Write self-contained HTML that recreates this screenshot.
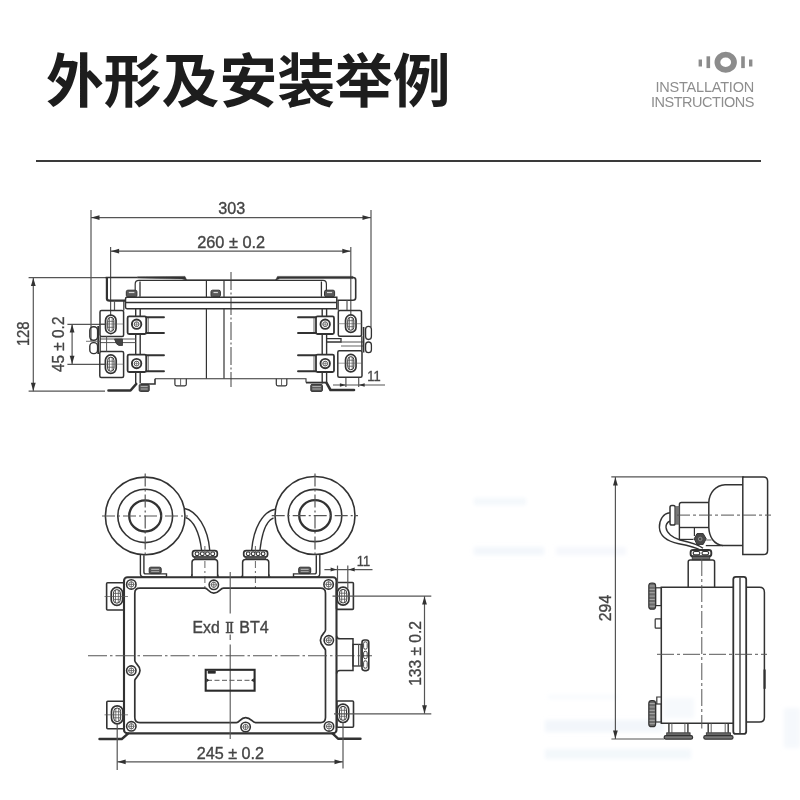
<!DOCTYPE html>
<html lang="zh">
<head>
<meta charset="utf-8">
<title>外形及安装举例</title>
<style>
html,body{margin:0;padding:0;background:#fff;}
body{width:800px;height:800px;position:relative;overflow:hidden;font-family:"Liberation Sans","Noto Sans CJK SC",sans-serif;}
h1{position:absolute;left:46px;top:40px;margin:0;font-size:57.8px;line-height:84px;font-weight:700;color:#1d1d1d;letter-spacing:0;white-space:nowrap;font-family:"Liberation Sans","Noto Sans CJK SC",sans-serif;}
.sub{position:absolute;right:46px;top:79.5px;text-align:right;font-size:14.5px;line-height:15.5px;color:#8e8e8e;white-space:nowrap;filter:blur(0.3px);}
.sub span{display:block;}
.sub .a{letter-spacing:-0.2px;}
.sub .b{letter-spacing:-0.48px;}
.rule{position:absolute;left:36px;top:160px;width:724.5px;height:2px;background:#3a3a3a;}
svg{position:absolute;left:0;top:0;}
svg text{font-family:"Liberation Sans",sans-serif;}
</style>
</head>
<body>
<h1>外形及安装举例</h1>
<div class="sub"><span class="a">INSTALLATION</span><span class="b">INSTRUCTIONS</span></div>
<div class="rule"></div>
<svg width="800" height="800" viewBox="0 0 800 800">
<defs><filter id="soft" x="-2%" y="-2%" width="104%" height="104%"><feGaussianBlur stdDeviation="0.5"/></filter><filter id="smudge" x="-10%" y="-50%" width="120%" height="200%"><feGaussianBlur stdDeviation="2.2"/></filter></defs>
<g fill="#8c8c8c">
<rect x="698.6" y="59.5" width="3.4" height="7"/>
<rect x="706.5" y="56.3" width="3.6" height="11.8"/>
<rect x="741.2" y="56.3" width="3.6" height="11.8"/>
<rect x="749" y="59.5" width="3.4" height="7"/>
<ellipse cx="725.7" cy="62.3" rx="8.3" ry="7.6" fill="none" stroke="#8c8c8c" stroke-width="5.8"/>
</g>
<g filter="url(#smudge)" fill="#e6edf7">
<rect x="474" y="498" width="52" height="7" opacity="0.47"/>
<rect x="474" y="547" width="70" height="8" opacity="0.51"/>
<rect x="556" y="547" width="70" height="8" opacity="0.42"/>
<rect x="548" y="695" width="70" height="4" opacity="0.30"/>
<rect x="545" y="720" width="118" height="12" opacity="0.51"/>
<rect x="545" y="749" width="146" height="10" opacity="0.47"/>
<rect x="784" y="708" width="16" height="40" opacity="0.38"/>
<rect x="664" y="698" width="30" height="20" opacity="0.34"/>
</g>
<g filter="url(#soft)">
<g id="top-view">
<line x1="91" y1="210" x2="91" y2="341" stroke="#555" stroke-width="1.2"/>
<line x1="371" y1="210" x2="371" y2="327" stroke="#555" stroke-width="1.2"/>
<line x1="91" y1="217.6" x2="371" y2="217.6" stroke="#555" stroke-width="1.2"/>
<polygon points="91.3,217.6 99.5,215.2 99.5,220" fill="#333"/>
<polygon points="370.7,217.6 362.5,215.2 362.5,220" fill="#333"/>
<text x="231.7" y="213.8" font-size="16.2" text-anchor="middle" textLength="27" lengthAdjust="spacingAndGlyphs" fill="#444" stroke="#444" stroke-width="0.35">303</text>
<line x1="110.6" y1="247" x2="110.6" y2="316" stroke="#555" stroke-width="1.2"/>
<line x1="350.8" y1="247" x2="350.8" y2="315" stroke="#555" stroke-width="1.2"/>
<line x1="110.6" y1="251.2" x2="350.8" y2="251.2" stroke="#555" stroke-width="1.2"/>
<polygon points="110.9,251.2 119.1,248.8 119.1,253.6" fill="#333"/>
<polygon points="350.5,251.2 342.3,248.8 342.3,253.6" fill="#333"/>
<text x="231.2" y="247.5" font-size="16.2" text-anchor="middle" textLength="68" lengthAdjust="spacingAndGlyphs" fill="#444" stroke="#444" stroke-width="0.35">260 ± 0.2</text>
<line x1="28.6" y1="277.6" x2="106" y2="277.6" stroke="#555" stroke-width="1.2"/>
<line x1="28.6" y1="391.2" x2="105" y2="391.2" stroke="#555" stroke-width="1.2"/>
<line x1="33.3" y1="277.6" x2="33.3" y2="391.2" stroke="#555" stroke-width="1.2"/>
<polygon points="33.3,277.9 30.9,286.1 35.7,286.1" fill="#333"/>
<polygon points="33.3,390.9 30.9,382.7 35.7,382.7" fill="#333"/>
<text x="29.4" y="333.8" font-size="16.2" text-anchor="middle" textLength="24.5" lengthAdjust="spacingAndGlyphs" transform="rotate(-90 29.4 333.8)" fill="#444" stroke="#444" stroke-width="0.35">128</text>
<line x1="67.4" y1="324.3" x2="106" y2="324.3" stroke="#555" stroke-width="1.2"/>
<line x1="67.4" y1="364.3" x2="106" y2="364.3" stroke="#555" stroke-width="1.2"/>
<line x1="72.1" y1="324" x2="72.1" y2="364.2" stroke="#555" stroke-width="1.2"/>
<polygon points="72.1,324.3 69.7,332.5 74.5,332.5" fill="#333"/>
<polygon points="72.1,363.9 69.7,355.7 74.5,355.7" fill="#333"/>
<text x="64.5" y="344.3" font-size="16.2" text-anchor="middle" textLength="55.5" lengthAdjust="spacingAndGlyphs" transform="rotate(-90 64.5 344.3)" fill="#444" stroke="#444" stroke-width="0.35">45 ± 0.2</text>
<line x1="345.9" y1="377" x2="345.9" y2="387" stroke="#555" stroke-width="1.2"/>
<line x1="358.7" y1="377" x2="358.7" y2="387" stroke="#555" stroke-width="1.2"/>
<line x1="333" y1="385" x2="385" y2="385" stroke="#555" stroke-width="1.2"/>
<polygon points="345.9,385 339.9,383.2 339.9,386.8" fill="#333"/>
<polygon points="358.7,385 364.7,383.2 364.7,386.8" fill="#333"/>
<text x="374" y="380.6" font-size="15" text-anchor="middle" textLength="13.4" lengthAdjust="spacingAndGlyphs" fill="#444" stroke="#444" stroke-width="0.35">11</text>
<line x1="231" y1="272" x2="231" y2="387" stroke="#555" stroke-width="1.1" stroke-dasharray="18 2.5 2 2.5"/>
<line x1="105.6" y1="277.5" x2="137.5" y2="277.5" stroke="#333" stroke-width="1.5"/>
<path d="M137.5 276.8 L185 276.4 L186.8 280.2 L182 278.9 L137.5 278.1 Z" fill="#333" stroke="#333" stroke-width="0.5"/>
<line x1="277" y1="279.9" x2="186" y2="279.9" stroke="#555" stroke-width="1"/>
<path d="M353 276.4 L277.5 276.4 L275.5 280.2 L280 278.6 L353 278.6 Z" fill="#333" stroke="#333" stroke-width="0.5"/>
<path d="M106.9 277.5 L106.9 298.5 Q106.9 300.7 109.5 300.7 L125 300.7" fill="none" stroke="#333" stroke-width="2.2"/>
<path d="M337.5 300.2 L353 300.2 Q355.7 300.2 355.7 297.5 L355.7 280 Q355.7 277.5 353 277.5" fill="none" stroke="#333" stroke-width="1.6"/>
<path d="M135.2 296 L135.2 284 Q135.2 280.4 139 280.4 L323 280.4 Q326.4 280.4 326.4 284 L326.4 296" fill="none" stroke="#333" stroke-width="1.2"/>
<line x1="140" y1="281.5" x2="140" y2="296.8" stroke="#333" stroke-width="1.3"/>
<line x1="321.4" y1="281.5" x2="321.4" y2="296.8" stroke="#333" stroke-width="1.3"/>
<rect x="126.3" y="290.2" width="10.6" height="6.6" rx="1.5" fill="#5a5a5a" stroke="#333" stroke-width="1"/>
<line x1="128.8" y1="292.5" x2="134.4" y2="292.5" stroke="#d8d8d8" stroke-width="1.2"/>
<rect x="211" y="290.2" width="9.4" height="6.6" rx="1.5" fill="#5a5a5a" stroke="#333" stroke-width="1"/>
<line x1="213.5" y1="292.5" x2="217.9" y2="292.5" stroke="#d8d8d8" stroke-width="1.2"/>
<rect x="324.5" y="290.2" width="10.1" height="6.6" rx="1.5" fill="#5a5a5a" stroke="#333" stroke-width="1"/>
<line x1="327" y1="292.5" x2="332.1" y2="292.5" stroke="#d8d8d8" stroke-width="1.2"/>
<path d="M336.8 297.3 L127 297.3 Q125.5 297.3 125.5 299 L125.5 307 Q125.5 308.7 127 308.7 L336.8 308.7 Z" fill="none" stroke="#333" stroke-width="1.5"/>
<line x1="126" y1="302.5" x2="336.5" y2="302.5" stroke="#333" stroke-width="1.4"/>
<line x1="206.4" y1="280" x2="206.4" y2="297" stroke="#333" stroke-width="1.2"/>
<line x1="224" y1="280" x2="224" y2="297" stroke="#333" stroke-width="1.2"/>
<line x1="206.4" y1="309" x2="206.4" y2="378.5" stroke="#333" stroke-width="1.2"/>
<line x1="224" y1="309" x2="224" y2="378.5" stroke="#333" stroke-width="1.2"/>
<line x1="114.5" y1="300.7" x2="114.5" y2="310.5" stroke="#555" stroke-width="1.2"/>
<line x1="123.8" y1="300.7" x2="123.8" y2="310.5" stroke="#333" stroke-width="1.2"/>
<line x1="347" y1="300.2" x2="347" y2="310.5" stroke="#555" stroke-width="1.2"/>
<line x1="338.2" y1="300.2" x2="338.2" y2="310.5" stroke="#333" stroke-width="1.2"/>
<rect x="100" y="310.5" width="23.6" height="25.9" rx="1.5" fill="none" stroke="#333" stroke-width="1.5"/>
<rect x="99.8" y="351.5" width="23.8" height="26" rx="1.5" fill="none" stroke="#333" stroke-width="1.5"/>
<rect x="338.3" y="310.5" width="23.2" height="25.7" rx="1.5" fill="none" stroke="#333" stroke-width="1.5"/>
<rect x="337.8" y="350.8" width="24.2" height="26.4" rx="1.5" fill="none" stroke="#333" stroke-width="1.5"/>
<rect x="105.55" y="315.05" width="10.5" height="18.5" rx="5.25" fill="none" stroke="#333" stroke-width="1.7"/>
<rect x="107.75" y="317.25" width="6.1" height="14.1" rx="3.05" fill="none" stroke="#333" stroke-width="1"/>
<line x1="109.4" y1="317.55" x2="109.4" y2="331.05" stroke="#555" stroke-width="0.8"/>
<line x1="112.2" y1="317.55" x2="112.2" y2="331.05" stroke="#555" stroke-width="0.8"/>
<line x1="107.55" y1="321.3" x2="114.05" y2="321.3" stroke="#555" stroke-width="0.8"/>
<line x1="107.55" y1="327.3" x2="114.05" y2="327.3" stroke="#555" stroke-width="0.8"/>
<rect x="105.4" y="354.95" width="10.8" height="18.5" rx="5.4" fill="none" stroke="#333" stroke-width="1.7"/>
<rect x="107.6" y="357.15" width="6.4" height="14.1" rx="3.2" fill="none" stroke="#333" stroke-width="1"/>
<line x1="109.4" y1="357.45" x2="109.4" y2="370.95" stroke="#555" stroke-width="0.8"/>
<line x1="112.2" y1="357.45" x2="112.2" y2="370.95" stroke="#555" stroke-width="0.8"/>
<line x1="107.4" y1="361.2" x2="114.2" y2="361.2" stroke="#555" stroke-width="0.8"/>
<line x1="107.4" y1="367.2" x2="114.2" y2="367.2" stroke="#555" stroke-width="0.8"/>
<rect x="345.55" y="314.95" width="10.5" height="17.5" rx="5.25" fill="none" stroke="#333" stroke-width="1.7"/>
<rect x="347.75" y="317.15" width="6.1" height="13.1" rx="3.05" fill="none" stroke="#333" stroke-width="1"/>
<line x1="349.4" y1="317.45" x2="349.4" y2="329.95" stroke="#555" stroke-width="0.8"/>
<line x1="352.2" y1="317.45" x2="352.2" y2="329.95" stroke="#555" stroke-width="0.8"/>
<line x1="347.55" y1="320.7" x2="354.05" y2="320.7" stroke="#555" stroke-width="0.8"/>
<line x1="347.55" y1="326.7" x2="354.05" y2="326.7" stroke="#555" stroke-width="0.8"/>
<rect x="345.55" y="354.45" width="10.5" height="17.5" rx="5.25" fill="none" stroke="#333" stroke-width="1.7"/>
<rect x="347.75" y="356.65" width="6.1" height="13.1" rx="3.05" fill="none" stroke="#333" stroke-width="1"/>
<line x1="349.4" y1="356.95" x2="349.4" y2="369.45" stroke="#555" stroke-width="0.8"/>
<line x1="352.2" y1="356.95" x2="352.2" y2="369.45" stroke="#555" stroke-width="0.8"/>
<line x1="347.55" y1="360.2" x2="354.05" y2="360.2" stroke="#555" stroke-width="0.8"/>
<line x1="347.55" y1="366.2" x2="354.05" y2="366.2" stroke="#555" stroke-width="0.8"/>
<line x1="100" y1="324" x2="123.6" y2="324" stroke="#555" stroke-width="0.6"/>
<line x1="100" y1="364.2" x2="123.6" y2="364.2" stroke="#555" stroke-width="0.6"/>
<line x1="338" y1="323.7" x2="362" y2="323.7" stroke="#555" stroke-width="0.6"/>
<line x1="338" y1="363.2" x2="362" y2="363.2" stroke="#555" stroke-width="0.6"/>
<rect x="127.6" y="316.4" width="18.6" height="17.6" rx="1.5" fill="none" stroke="#333" stroke-width="1.8"/>
<circle cx="136.6" cy="324.2" r="4.7" fill="none" stroke="#333" stroke-width="1.9"/>
<circle cx="136.6" cy="324.2" r="2.4" fill="none" stroke="#555" stroke-width="1"/>
<line x1="134.3" y1="324.2" x2="138.9" y2="324.2" stroke="#555" stroke-width="0.6"/>
<line x1="136.6" y1="321.9" x2="136.6" y2="326.5" stroke="#555" stroke-width="0.6"/>
<rect x="127.6" y="354.6" width="18.6" height="17.4" rx="1.5" fill="none" stroke="#333" stroke-width="1.8"/>
<circle cx="136.6" cy="363.6" r="4.7" fill="none" stroke="#333" stroke-width="1.9"/>
<circle cx="136.6" cy="363.6" r="2.4" fill="none" stroke="#555" stroke-width="1"/>
<line x1="134.3" y1="363.6" x2="138.9" y2="363.6" stroke="#555" stroke-width="0.6"/>
<line x1="136.6" y1="361.3" x2="136.6" y2="365.9" stroke="#555" stroke-width="0.6"/>
<rect x="316" y="316.4" width="18" height="17.6" rx="1.5" fill="none" stroke="#333" stroke-width="1.8"/>
<circle cx="325.2" cy="324.2" r="4.7" fill="none" stroke="#333" stroke-width="1.9"/>
<circle cx="325.2" cy="324.2" r="2.4" fill="none" stroke="#555" stroke-width="1"/>
<line x1="322.9" y1="324.2" x2="327.5" y2="324.2" stroke="#555" stroke-width="0.6"/>
<line x1="325.2" y1="321.9" x2="325.2" y2="326.5" stroke="#555" stroke-width="0.6"/>
<rect x="316" y="354.6" width="18" height="17.4" rx="1.5" fill="none" stroke="#333" stroke-width="1.8"/>
<circle cx="325.2" cy="363.6" r="4.7" fill="none" stroke="#333" stroke-width="1.9"/>
<circle cx="325.2" cy="363.6" r="2.4" fill="none" stroke="#555" stroke-width="1"/>
<line x1="322.9" y1="363.6" x2="327.5" y2="363.6" stroke="#555" stroke-width="0.6"/>
<line x1="325.2" y1="361.3" x2="325.2" y2="365.9" stroke="#555" stroke-width="0.6"/>
<line x1="135.7" y1="308.7" x2="135.7" y2="316.4" stroke="#333" stroke-width="1.4"/>
<line x1="135.7" y1="334" x2="135.7" y2="354.6" stroke="#333" stroke-width="1.4"/>
<line x1="135.7" y1="372" x2="135.7" y2="383.5" stroke="#333" stroke-width="1.4"/>
<line x1="140.2" y1="308.7" x2="140.2" y2="316.4" stroke="#333" stroke-width="1.4"/>
<line x1="140.2" y1="334" x2="140.2" y2="354.6" stroke="#333" stroke-width="1.4"/>
<line x1="140.2" y1="372" x2="140.2" y2="383.5" stroke="#333" stroke-width="1.4"/>
<line x1="322.2" y1="308.7" x2="322.2" y2="316.4" stroke="#333" stroke-width="1.4"/>
<line x1="322.2" y1="334" x2="322.2" y2="354.6" stroke="#333" stroke-width="1.4"/>
<line x1="322.2" y1="372" x2="322.2" y2="383.5" stroke="#333" stroke-width="1.4"/>
<line x1="326.6" y1="308.7" x2="326.6" y2="316.4" stroke="#333" stroke-width="1.4"/>
<line x1="326.6" y1="334" x2="326.6" y2="354.6" stroke="#333" stroke-width="1.4"/>
<line x1="326.6" y1="372" x2="326.6" y2="383.5" stroke="#333" stroke-width="1.4"/>
<line x1="148.2" y1="317" x2="148.2" y2="333.5" stroke="#555" stroke-width="0.9"/>
<line x1="148.2" y1="355.5" x2="148.2" y2="371.5" stroke="#555" stroke-width="0.9"/>
<line x1="314" y1="317" x2="314" y2="333.5" stroke="#555" stroke-width="0.9"/>
<line x1="314" y1="355.5" x2="314" y2="371.5" stroke="#555" stroke-width="0.9"/>
<line x1="146.2" y1="317.2" x2="164" y2="317.2" stroke="#333" stroke-width="1.9" stroke-linecap="round"/>
<line x1="298" y1="317.2" x2="316" y2="317.2" stroke="#333" stroke-width="1.9" stroke-linecap="round"/>
<line x1="146.2" y1="333" x2="164" y2="333" stroke="#333" stroke-width="1.9" stroke-linecap="round"/>
<line x1="298" y1="333" x2="316" y2="333" stroke="#333" stroke-width="1.9" stroke-linecap="round"/>
<line x1="146.2" y1="355.3" x2="164" y2="355.3" stroke="#333" stroke-width="1.9" stroke-linecap="round"/>
<line x1="298" y1="355.3" x2="316" y2="355.3" stroke="#333" stroke-width="1.9" stroke-linecap="round"/>
<line x1="146.2" y1="371.2" x2="164" y2="371.2" stroke="#333" stroke-width="1.9" stroke-linecap="round"/>
<line x1="298" y1="371.2" x2="316" y2="371.2" stroke="#333" stroke-width="1.9" stroke-linecap="round"/>
<line x1="100" y1="339" x2="135.5" y2="339" stroke="#555" stroke-width="1"/>
<line x1="100" y1="342.6" x2="135.5" y2="342.6" stroke="#555" stroke-width="1"/>
<line x1="100.2" y1="336.4" x2="100.2" y2="351.5" stroke="#333" stroke-width="1.3"/>
<line x1="106.6" y1="336.4" x2="106.6" y2="351.5" stroke="#555" stroke-width="1"/>
<path d="M114.5 339 L122.5 339 L122.5 345.5 L119 345.5 Q116 345 114.5 339 Z" fill="#444" stroke="#333" stroke-width="0.8"/>
<path d="M326.6 338.6 L341 338.6 L341 342 L326.6 342" fill="none" stroke="#333" stroke-width="1.3"/>
<line x1="341" y1="342" x2="363" y2="342" stroke="#555" stroke-width="1"/>
<line x1="341" y1="346" x2="363" y2="346" stroke="#555" stroke-width="0.9"/>
<line x1="361.8" y1="336.2" x2="361.8" y2="350.8" stroke="#333" stroke-width="1.3"/>
<rect x="89.8" y="326.8" width="7.8" height="13.4" rx="3.6" fill="none" stroke="#333" stroke-width="1.4"/>
<rect x="89.8" y="342.6" width="7.8" height="11" rx="3.6" fill="none" stroke="#333" stroke-width="1.4"/>
<line x1="98.2" y1="326" x2="98.2" y2="354" stroke="#333" stroke-width="1.8"/>
<line x1="86" y1="341.3" x2="100" y2="341.3" stroke="#555" stroke-width="0.8"/>
<rect x="365.6" y="326.4" width="5.8" height="13.1" rx="2.9" fill="none" stroke="#333" stroke-width="1.3"/>
<rect x="365.6" y="342" width="5.8" height="10.6" rx="2.9" fill="none" stroke="#333" stroke-width="1.3"/>
<line x1="363.6" y1="327" x2="363.6" y2="352.5" stroke="#333" stroke-width="1.7"/>
<path d="M155 378.7 L306 378.7 L306 382.4" fill="none" stroke="#333" stroke-width="1.1"/>
<path d="M155 378.7 L155 384 L141 384" fill="none" stroke="#333" stroke-width="1.6"/>
<line x1="306" y1="382.6" x2="327" y2="382.6" stroke="#333" stroke-width="1.8"/>
<path d="M174.9 378.7 L174.9 384.3 Q174.9 385.8 176.4 385.8 L184.8 385.8 Q186.3 385.8 186.3 384.3 L186.3 378.7" fill="none" stroke="#333" stroke-width="1.2"/>
<line x1="180.6" y1="378.7" x2="180.6" y2="385.8" stroke="#555" stroke-width="0.9"/>
<path d="M276.3 378.7 L276.3 384.3 Q276.3 385.8 277.8 385.8 L285.3 385.8 Q286.8 385.8 286.8 384.3 L286.8 378.7" fill="none" stroke="#333" stroke-width="1.2"/>
<line x1="281.55" y1="378.7" x2="281.55" y2="385.8" stroke="#555" stroke-width="0.9"/>
<path d="M108.5 390.5 L130.5 390.5 L136.2 384" fill="none" stroke="#333" stroke-width="2.6" stroke-linecap="round" stroke-linejoin="round"/>
<path d="M326.5 382.8 L330.5 390 L354 390" fill="none" stroke="#333" stroke-width="2.6" stroke-linecap="round" stroke-linejoin="round"/>
<rect x="139.2" y="384.4" width="10" height="7" rx="1.2" fill="#555" stroke="#333" stroke-width="1"/>
<line x1="140.7" y1="386.6" x2="147.7" y2="386.6" stroke="#ccc" stroke-width="0.8"/>
<line x1="140.7" y1="389" x2="147.7" y2="389" stroke="#ccc" stroke-width="0.8"/>
<rect x="310.8" y="384.4" width="11.6" height="7" rx="1.2" fill="#555" stroke="#333" stroke-width="1"/>
<line x1="312.3" y1="386.6" x2="320.9" y2="386.6" stroke="#ccc" stroke-width="0.8"/>
<line x1="312.3" y1="389" x2="320.9" y2="389" stroke="#ccc" stroke-width="0.8"/>
</g>
<g id="front-view">
<ellipse cx="145.2" cy="515.9" rx="39.8" ry="38.8" fill="none" stroke="#333" stroke-width="1.6"/>
<ellipse cx="145.2" cy="515.9" rx="27.4" ry="26.71" fill="none" stroke="#333" stroke-width="1.6"/>
<ellipse cx="145.2" cy="515.9" rx="16" ry="15.6" fill="none" stroke="#333" stroke-width="2.3"/>
<ellipse cx="315" cy="515.5" rx="40" ry="39" fill="none" stroke="#333" stroke-width="1.6"/>
<ellipse cx="315" cy="515.5" rx="26.8" ry="26.13" fill="none" stroke="#333" stroke-width="1.6"/>
<ellipse cx="315" cy="515.5" rx="15.8" ry="15.41" fill="none" stroke="#333" stroke-width="2.3"/>
<line x1="102" y1="516" x2="188" y2="516" stroke="#555" stroke-width="1.2" stroke-dasharray="13 3 2 3"/>
<line x1="145.2" y1="473.5" x2="145.2" y2="557.5" stroke="#555" stroke-width="1.2" stroke-dasharray="13 3 2 3"/>
<line x1="271.7" y1="515.6" x2="358" y2="515.6" stroke="#555" stroke-width="1.2" stroke-dasharray="13 3 2 3"/>
<line x1="315" y1="473.5" x2="315" y2="556" stroke="#555" stroke-width="1.2" stroke-dasharray="13 3 2 3"/>
<path d="M140.4 554.8 L140.4 573.5 Q140.4 577 143.5 577 L166.5 577" fill="none" stroke="#333" stroke-width="1.4"/>
<path d="M143.9 555.2 L143.9 572 Q143.9 573.9 145.8 573.9 L166.5 573.9 L166.5 577" fill="none" stroke="#333" stroke-width="1.4"/>
<path d="M319.8 554.8 L319.8 573.5 Q319.8 577 316.7 577 L293.5 577" fill="none" stroke="#333" stroke-width="1.4"/>
<path d="M316.3 555.2 L316.3 572 Q316.3 573.9 314.4 573.9 L293.5 573.9 L293.5 577" fill="none" stroke="#333" stroke-width="1.4"/>
<rect x="149.2" y="567.2" width="12" height="6.4" rx="1.5" fill="#555" stroke="#333" stroke-width="1"/>
<line x1="151.2" y1="569.3" x2="159.2" y2="569.3" stroke="#cfcfcf" stroke-width="0.9"/>
<line x1="151.2" y1="571.6" x2="159.2" y2="571.6" stroke="#bbb" stroke-width="0.8"/>
<rect x="298.7" y="567.2" width="12" height="6.4" rx="1.5" fill="#555" stroke="#333" stroke-width="1"/>
<line x1="300.7" y1="569.3" x2="308.7" y2="569.3" stroke="#cfcfcf" stroke-width="0.9"/>
<line x1="300.7" y1="571.6" x2="308.7" y2="571.6" stroke="#bbb" stroke-width="0.8"/>
<path d="M184.5 508.5 C197 511 208 528 209.7 550" fill="none" stroke="#333" stroke-width="1.4"/>
<path d="M185.7 517.5 C193 520 199.5 532 201.5 550" fill="none" stroke="#333" stroke-width="1.4"/>
<path d="M275 509.2 C263 511.5 253.5 528 251.7 550" fill="none" stroke="#333" stroke-width="1.4"/>
<path d="M273.5 518 C266.5 520.5 262 532 260 550" fill="none" stroke="#333" stroke-width="1.4"/>
<rect x="192.5" y="550.6" width="24.8" height="6.4" rx="2.5" fill="none" stroke="#333" stroke-width="1.7"/>
<rect x="195.2" y="552" width="3.8" height="3.6" rx="1.5" fill="none" stroke="#333" stroke-width="1.1"/>
<rect x="200.4" y="552" width="3.8" height="3.6" rx="1.5" fill="none" stroke="#333" stroke-width="1.1"/>
<rect x="205.6" y="552" width="3.8" height="3.6" rx="1.5" fill="none" stroke="#333" stroke-width="1.1"/>
<rect x="210.8" y="552" width="3.8" height="3.6" rx="1.5" fill="none" stroke="#333" stroke-width="1.1"/>
<rect x="194.7" y="557" width="20.4" height="2.6" rx="0" fill="#666" stroke="#333" stroke-width="0.8"/>
<path d="M192 577 L192 562.4 Q192 559.6 194.8 559.6 L214.79999999999998 559.6 Q217.6 559.6 217.6 562.4 L217.6 577" fill="none" stroke="#333" stroke-width="1.5"/>
<path d="M190.2 577 Q192 576.5 192 574" fill="none" stroke="#333" stroke-width="1"/>
<path d="M219.4 577 Q217.6 576.5 217.6 574" fill="none" stroke="#333" stroke-width="1"/>
<line x1="204.9" y1="546" x2="204.9" y2="590" stroke="#555" stroke-width="0.9" stroke-dasharray="7 3 2 3"/>
<rect x="243.7" y="550.6" width="23.9" height="6.4" rx="2.5" fill="none" stroke="#333" stroke-width="1.7"/>
<rect x="246.4" y="552" width="3.58" height="3.6" rx="1.5" fill="none" stroke="#333" stroke-width="1.1"/>
<rect x="251.38" y="552" width="3.57" height="3.6" rx="1.5" fill="none" stroke="#333" stroke-width="1.1"/>
<rect x="256.35" y="552" width="3.57" height="3.6" rx="1.5" fill="none" stroke="#333" stroke-width="1.1"/>
<rect x="261.32" y="552" width="3.58" height="3.6" rx="1.5" fill="none" stroke="#333" stroke-width="1.1"/>
<rect x="245.9" y="557" width="19.5" height="2.6" rx="0" fill="#666" stroke="#333" stroke-width="0.8"/>
<path d="M242.6 577 L242.6 562.4 Q242.6 559.6 245.4 559.6 L266.0 559.6 Q268.8 559.6 268.8 562.4 L268.8 577" fill="none" stroke="#333" stroke-width="1.5"/>
<path d="M240.79999999999998 577 Q242.6 576.5 242.6 574" fill="none" stroke="#333" stroke-width="1"/>
<path d="M270.6 577 Q268.8 576.5 268.8 574" fill="none" stroke="#333" stroke-width="1"/>
<line x1="255.4" y1="546" x2="255.4" y2="590" stroke="#555" stroke-width="0.9" stroke-dasharray="7 3 2 3"/>
<rect x="124" y="577.3" width="212.5" height="156.1" rx="3.5" fill="none" stroke="#333" stroke-width="2.1"/>
<path d="M139.8 588.2 L205 588.2 C208 588.3 209 593.2 213.8 593.2 C219 593.2 220 588.3 223.5 588.2 L320.5 588.2 Q325.5 588.2 325.5 593.2 L325.5 630 C325.4 633 320.4 634.5 320.4 640.2 C320.4 646 325.4 647.5 325.5 650.5 L325.5 717.5 Q325.5 722.6 320.5 722.6 L255.5 722.6 C252 722.5 251 717.6 245.6 717.6 C240.5 717.6 239.5 722.5 236.5 722.6 L139.8 722.6 Q134.8 722.6 134.8 717.5 L134.8 680.5 C134.9 677.5 140 676 140 670.6 C140 665 134.9 663.5 134.8 660.8 L134.8 593.2 Q134.8 588.2 139.8 588.2 Z" fill="none" stroke="#333" stroke-width="1.7"/>
<circle cx="131.3" cy="584.4" r="4.7" fill="none" stroke="#333" stroke-width="1.6"/>
<circle cx="131.3" cy="584.4" r="2.6" fill="none" stroke="#555" stroke-width="0.9"/>
<line x1="128.2" y1="584.4" x2="134.4" y2="584.4" stroke="#555" stroke-width="0.8"/>
<line x1="131.3" y1="581.3" x2="131.3" y2="587.5" stroke="#555" stroke-width="0.8"/>
<circle cx="213.8" cy="584.8" r="4.7" fill="none" stroke="#333" stroke-width="1.6"/>
<circle cx="213.8" cy="584.8" r="2.6" fill="none" stroke="#555" stroke-width="0.9"/>
<line x1="210.7" y1="584.8" x2="216.9" y2="584.8" stroke="#555" stroke-width="0.8"/>
<line x1="213.8" y1="581.7" x2="213.8" y2="587.9" stroke="#555" stroke-width="0.8"/>
<circle cx="328.6" cy="584.4" r="4.7" fill="none" stroke="#333" stroke-width="1.6"/>
<circle cx="328.6" cy="584.4" r="2.6" fill="none" stroke="#555" stroke-width="0.9"/>
<line x1="325.5" y1="584.4" x2="331.7" y2="584.4" stroke="#555" stroke-width="0.8"/>
<line x1="328.6" y1="581.3" x2="328.6" y2="587.5" stroke="#555" stroke-width="0.8"/>
<circle cx="131.3" cy="670.6" r="4.7" fill="none" stroke="#333" stroke-width="1.6"/>
<circle cx="131.3" cy="670.6" r="2.6" fill="none" stroke="#555" stroke-width="0.9"/>
<line x1="128.2" y1="670.6" x2="134.4" y2="670.6" stroke="#555" stroke-width="0.8"/>
<line x1="131.3" y1="667.5" x2="131.3" y2="673.7" stroke="#555" stroke-width="0.8"/>
<circle cx="328.8" cy="640.3" r="4.7" fill="none" stroke="#333" stroke-width="1.6"/>
<circle cx="328.8" cy="640.3" r="2.6" fill="none" stroke="#555" stroke-width="0.9"/>
<line x1="325.7" y1="640.3" x2="331.9" y2="640.3" stroke="#555" stroke-width="0.8"/>
<line x1="328.8" y1="637.2" x2="328.8" y2="643.4" stroke="#555" stroke-width="0.8"/>
<circle cx="131.3" cy="726.3" r="4.7" fill="none" stroke="#333" stroke-width="1.6"/>
<circle cx="131.3" cy="726.3" r="2.6" fill="none" stroke="#555" stroke-width="0.9"/>
<line x1="128.2" y1="726.3" x2="134.4" y2="726.3" stroke="#555" stroke-width="0.8"/>
<line x1="131.3" y1="723.2" x2="131.3" y2="729.4" stroke="#555" stroke-width="0.8"/>
<circle cx="245.6" cy="727" r="4.7" fill="none" stroke="#333" stroke-width="1.6"/>
<circle cx="245.6" cy="727" r="2.6" fill="none" stroke="#555" stroke-width="0.9"/>
<line x1="242.5" y1="727" x2="248.7" y2="727" stroke="#555" stroke-width="0.8"/>
<line x1="245.6" y1="723.9" x2="245.6" y2="730.1" stroke="#555" stroke-width="0.8"/>
<circle cx="329" cy="726.4" r="4.7" fill="none" stroke="#333" stroke-width="1.6"/>
<circle cx="329" cy="726.4" r="2.6" fill="none" stroke="#555" stroke-width="0.9"/>
<line x1="325.9" y1="726.4" x2="332.1" y2="726.4" stroke="#555" stroke-width="0.8"/>
<line x1="329" y1="723.3" x2="329" y2="729.5" stroke="#555" stroke-width="0.8"/>
<rect x="106.6" y="582.8" width="17.4" height="27.2" rx="1" fill="none" stroke="#333" stroke-width="1.6"/>
<rect x="106.8" y="701.2" width="17.2" height="27.6" rx="1" fill="none" stroke="#333" stroke-width="1.6"/>
<rect x="336.5" y="582.5" width="16.9" height="26.9" rx="1" fill="none" stroke="#333" stroke-width="1.6"/>
<rect x="336.8" y="701" width="16.7" height="26.3" rx="1" fill="none" stroke="#333" stroke-width="1.6"/>
<rect x="111.2" y="587.4" width="11.4" height="18" rx="5.7" fill="none" stroke="#333" stroke-width="1.7"/>
<rect x="113.4" y="589.6" width="7" height="13.6" rx="3.5" fill="none" stroke="#333" stroke-width="1"/>
<line x1="115.5" y1="589.9" x2="115.5" y2="602.9" stroke="#555" stroke-width="0.8"/>
<line x1="118.3" y1="589.9" x2="118.3" y2="602.9" stroke="#555" stroke-width="0.8"/>
<line x1="113.2" y1="593.4" x2="120.6" y2="593.4" stroke="#555" stroke-width="0.8"/>
<line x1="113.2" y1="599.4" x2="120.6" y2="599.4" stroke="#555" stroke-width="0.8"/>
<rect x="111.5" y="705.8" width="11.4" height="18" rx="5.7" fill="none" stroke="#333" stroke-width="1.7"/>
<rect x="113.7" y="708" width="7" height="13.6" rx="3.5" fill="none" stroke="#333" stroke-width="1"/>
<line x1="115.8" y1="708.3" x2="115.8" y2="721.3" stroke="#555" stroke-width="0.8"/>
<line x1="118.6" y1="708.3" x2="118.6" y2="721.3" stroke="#555" stroke-width="0.8"/>
<line x1="113.5" y1="711.8" x2="120.9" y2="711.8" stroke="#555" stroke-width="0.8"/>
<line x1="113.5" y1="717.8" x2="120.9" y2="717.8" stroke="#555" stroke-width="0.8"/>
<rect x="337.2" y="587.2" width="11.8" height="18" rx="5.9" fill="none" stroke="#333" stroke-width="1.7"/>
<rect x="339.4" y="589.4" width="7.4" height="13.6" rx="3.7" fill="none" stroke="#333" stroke-width="1"/>
<line x1="341.7" y1="589.7" x2="341.7" y2="602.7" stroke="#555" stroke-width="0.8"/>
<line x1="344.5" y1="589.7" x2="344.5" y2="602.7" stroke="#555" stroke-width="0.8"/>
<line x1="339.2" y1="593.2" x2="347" y2="593.2" stroke="#555" stroke-width="0.8"/>
<line x1="339.2" y1="599.2" x2="347" y2="599.2" stroke="#555" stroke-width="0.8"/>
<rect x="337.3" y="704.1" width="11.4" height="18.4" rx="5.7" fill="none" stroke="#333" stroke-width="1.7"/>
<rect x="339.5" y="706.3" width="7" height="14" rx="3.5" fill="none" stroke="#333" stroke-width="1"/>
<line x1="341.6" y1="706.6" x2="341.6" y2="720" stroke="#555" stroke-width="0.8"/>
<line x1="344.4" y1="706.6" x2="344.4" y2="720" stroke="#555" stroke-width="0.8"/>
<line x1="339.3" y1="710.3" x2="346.7" y2="710.3" stroke="#555" stroke-width="0.8"/>
<line x1="339.3" y1="716.3" x2="346.7" y2="716.3" stroke="#555" stroke-width="0.8"/>
<line x1="104.5" y1="596.5" x2="128" y2="596.5" stroke="#555" stroke-width="0.7"/>
<line x1="104.5" y1="714.8" x2="128" y2="714.8" stroke="#555" stroke-width="0.7"/>
<line x1="88" y1="655.8" x2="372" y2="655.8" stroke="#555" stroke-width="1.1" stroke-dasharray="19 3 2.5 3"/>
<line x1="230.2" y1="572" x2="230.2" y2="613.5" stroke="#555" stroke-width="1.1"/>
<line x1="230.2" y1="634.5" x2="230.2" y2="640" stroke="#555" stroke-width="1.1"/>
<line x1="230.2" y1="644.5" x2="230.2" y2="739" stroke="#555" stroke-width="1.1"/>
<text x="206.1" y="633" font-size="16" text-anchor="middle" textLength="27.2" lengthAdjust="spacingAndGlyphs" fill="#444" stroke="#444" stroke-width="0.35">Exd</text>
<text x="229.5" y="633" font-size="14.6" text-anchor="middle" textLength="8.6" lengthAdjust="spacingAndGlyphs" fill="#444" stroke="#444" stroke-width="0.5" style="font-family:'DejaVu Serif','Liberation Serif',serif">Ⅱ</text>
<text x="253.9" y="633" font-size="16" text-anchor="middle" textLength="29.4" lengthAdjust="spacingAndGlyphs" fill="#444" stroke="#444" stroke-width="0.35">BT4</text>
<rect x="205.7" y="669.8" width="48.9" height="20.9" rx="0" fill="none" stroke="#2c2c2c" stroke-width="2.1"/>
<line x1="207" y1="680.3" x2="253.5" y2="680.3" stroke="#555" stroke-width="1" stroke-dasharray="5 2.5"/>
<polygon points="206.5,678.3 209.3,680.3 206.5,682.3" fill="#2c2c2c"/><polygon points="253.8,678.3 251,680.3 253.8,682.3" fill="#2c2c2c"/>
<rect x="208" y="671" width="7.5" height="2.3" rx="0" fill="#2c2c2c" stroke="#2c2c2c" stroke-width="0.5"/>
<path d="M336.5 636 Q337 638.8 340 638.8 L353 638.8 L353 670.6 L340 670.6 Q337 670.6 336.5 673.5" fill="none" stroke="#333" stroke-width="1.5"/>
<rect x="353" y="644.4" width="9" height="21.6" rx="0" fill="none" stroke="#333" stroke-width="1.3"/>
<line x1="358.5" y1="644.4" x2="358.5" y2="666" stroke="#555" stroke-width="1"/>
<line x1="360.3" y1="644.4" x2="360.3" y2="666" stroke="#555" stroke-width="1"/>
<rect x="362" y="640" width="6.8" height="30.6" rx="2.5" fill="none" stroke="#333" stroke-width="1.6"/>
<rect x="363.6" y="641.8" width="3.6" height="7.4" rx="1.6" fill="none" stroke="#333" stroke-width="0.9"/>
<rect x="363.6" y="651.3" width="3.6" height="7.4" rx="1.6" fill="none" stroke="#333" stroke-width="0.9"/>
<rect x="363.6" y="660.8" width="3.6" height="7.4" rx="1.6" fill="none" stroke="#333" stroke-width="0.9"/>
<path d="M99.5 739 L121.8 739 L128 733.6" fill="none" stroke="#333" stroke-width="2.4" stroke-linecap="round" stroke-linejoin="round"/>
<path d="M332.5 733.4 L338 738.7 L360.5 738.7" fill="none" stroke="#333" stroke-width="2.4" stroke-linecap="round" stroke-linejoin="round"/>
<line x1="117.2" y1="724" x2="117.2" y2="770" stroke="#555" stroke-width="1.2"/>
<line x1="343" y1="722.5" x2="343" y2="768.5" stroke="#555" stroke-width="1.2"/>
<line x1="117.2" y1="761.8" x2="343" y2="761.8" stroke="#555" stroke-width="1.2"/>
<polygon points="117.5,761.8 125.7,759.4 125.7,764.2" fill="#333"/>
<polygon points="342.7,761.8 334.5,759.4 334.5,764.2" fill="#333"/>
<text x="230.4" y="759.1" font-size="16.2" text-anchor="middle" textLength="67.3" lengthAdjust="spacingAndGlyphs" fill="#444" stroke="#444" stroke-width="0.35">245 ± 0.2</text>
<line x1="337.5" y1="565.6" x2="337.5" y2="588.5" stroke="#555" stroke-width="1.2"/>
<line x1="347.8" y1="565.6" x2="347.8" y2="588.5" stroke="#555" stroke-width="1.2"/>
<line x1="324.4" y1="569.6" x2="372.5" y2="569.6" stroke="#555" stroke-width="1.2"/>
<polygon points="336.6,569.6 330.6,567.6 330.6,571.6" fill="#333"/>
<polygon points="348.7,569.6 354.7,567.6 354.7,571.6" fill="#333"/>
<text x="363.4" y="566" font-size="15.4" text-anchor="middle" textLength="13.4" lengthAdjust="spacingAndGlyphs" fill="#444" stroke="#444" stroke-width="0.35">11</text>
<line x1="332.5" y1="596.1" x2="431.3" y2="596.1" stroke="#555" stroke-width="1.2"/>
<line x1="334" y1="713.8" x2="431.3" y2="713.8" stroke="#555" stroke-width="1.2"/>
<line x1="424.5" y1="596.1" x2="424.5" y2="713.8" stroke="#555" stroke-width="1.2"/>
<polygon points="424.5,596.4 422.1,604.6 426.9,604.6" fill="#333"/>
<polygon points="424.5,713.5 422.1,705.3 426.9,705.3" fill="#333"/>
<text x="421.5" y="653.4" font-size="16.2" text-anchor="middle" textLength="64.8" lengthAdjust="spacingAndGlyphs" transform="rotate(-90 421.5 653.4)" fill="#444" stroke="#444" stroke-width="0.35">133 ± 0.2</text>
</g>
<g id="side-view">
<line x1="611.3" y1="476.9" x2="744" y2="476.9" stroke="#555" stroke-width="1.2"/>
<line x1="611.4" y1="739" x2="664" y2="739" stroke="#555" stroke-width="1.2"/>
<line x1="615.4" y1="476.9" x2="615.4" y2="739" stroke="#555" stroke-width="1.2"/>
<polygon points="615.4,477.2 613,485.4 617.8,485.4" fill="#333"/>
<polygon points="615.4,738.7 613,730.5 617.8,730.5" fill="#333"/>
<text x="610.7" y="608" font-size="16.2" text-anchor="middle" textLength="26.5" lengthAdjust="spacingAndGlyphs" transform="rotate(-90 610.7 608)" fill="#444" stroke="#444" stroke-width="0.35">294</text>
<path d="M742.8 476.9 L763.4 476.9 Q767.6 476.9 767.6 481 L767.6 550.4 Q767.6 554.5 763.4 554.5 L742.8 554.5 Z" fill="none" stroke="#333" stroke-width="1.5"/>
<path d="M742.8 484.8 L725 484.8 C716 485.2 709.2 492.5 708.8 502.5 L708.8 527.5 C709.2 537 714 544.6 723 545.6 L742.8 545.6" fill="none" stroke="#333" stroke-width="1.5"/>
<path d="M708.8 502.5 L681.4 502.5 Q679.4 502.5 679.4 504.5 L679.4 539.4" fill="none" stroke="#333" stroke-width="1.4"/>
<line x1="679.4" y1="527.5" x2="708.8" y2="527.5" stroke="#333" stroke-width="1.4"/>
<line x1="679.4" y1="539.4" x2="693.5" y2="539.4" stroke="#333" stroke-width="1.2"/>
<line x1="694.4" y1="527.5" x2="694.4" y2="536" stroke="#333" stroke-width="1.2"/>
<rect x="670" y="505.6" width="5.2" height="19.4" rx="1.8" fill="none" stroke="#333" stroke-width="1.5"/>
<rect x="675.2" y="506.5" width="4" height="17.7" rx="0" fill="#777" stroke="#555" stroke-width="0.6"/>
<line x1="677" y1="515.1" x2="771" y2="515.1" stroke="#555" stroke-width="1" stroke-dasharray="13 3 3 3"/>
<path d="M670 512.8 C663 513.5 659.2 520 659.4 527.5 C659.8 536 668 541.5 678.8 543.8 C688 545.6 696 547.5 701 550.4" fill="none" stroke="#333" stroke-width="1.4"/>
<path d="M670 521 C667 522.5 665.8 525 666 527.5 C666.6 533 672.5 537.8 680 540 C689 542 698 544 703 548.2" fill="none" stroke="#333" stroke-width="1.4"/>
<polygon points="694.2,538.8 697,533.6 703.2,533.6 706.2,538.8 703.2,544.4 697,544.4" fill="#4a4a4a" stroke="#333" stroke-width="1"/>
<circle cx="700.2" cy="539" r="1.8" fill="none" stroke="#999" stroke-width="0.8"/>
<line x1="705.8" y1="545.6" x2="723" y2="545.6" stroke="#333" stroke-width="1.3"/>
<line x1="706.2" y1="540" x2="711.5" y2="540" stroke="#555" stroke-width="0.9"/>
<rect x="690.6" y="550" width="20.7" height="6.3" rx="2.4" fill="none" stroke="#333" stroke-width="1.9"/>
<rect x="693.2" y="551.5" width="6.6" height="3.3" rx="1.5" fill="none" stroke="#333" stroke-width="1.2"/>
<rect x="702" y="551.5" width="6.6" height="3.3" rx="1.5" fill="none" stroke="#333" stroke-width="1.2"/>
<rect x="692.2" y="556.3" width="17.6" height="3.5" rx="0" fill="#666" stroke="#333" stroke-width="0.8"/>
<path d="M688.2 587 L688.2 562 Q688.2 560 690.2 560 L712.6 560 Q714.6 560 714.6 562 L714.6 587" fill="none" stroke="#333" stroke-width="1.5"/>
<path d="M733.3 587.2 L661.3 587.2 L661.3 723.2 L733.3 723.2" fill="none" stroke="#333" stroke-width="1.5"/>
<rect x="733.3" y="576.8" width="12.9" height="157.1" rx="2.5" fill="none" stroke="#333" stroke-width="1.8"/>
<line x1="740" y1="577.5" x2="740" y2="733.2" stroke="#333" stroke-width="1.3"/>
<path d="M746.2 587.3 L759.5 587.3 Q764.4 587.3 764.4 592.2 L764.4 717.2 Q764.4 722 759.5 722 L746.2 722" fill="none" stroke="#333" stroke-width="1.5"/>
<line x1="764.6" y1="669.5" x2="764.6" y2="688.8" stroke="#333" stroke-width="2.2"/>
<line x1="657" y1="654.3" x2="767" y2="654.3" stroke="#555" stroke-width="1" stroke-dasharray="17 3 3 3"/>
<line x1="701.8" y1="559" x2="701.8" y2="728.5" stroke="#555" stroke-width="1" stroke-dasharray="17 3 3 3"/>
<rect x="648.8" y="583" width="6.8" height="26.2" rx="2.8" fill="#6a6a6a" stroke="#333" stroke-width="1.2"/>
<line x1="649.6" y1="586" x2="654.8" y2="586" stroke="#bdbdbd" stroke-width="0.8"/>
<line x1="649.6" y1="589.37" x2="654.8" y2="589.37" stroke="#bdbdbd" stroke-width="0.8"/>
<line x1="649.6" y1="592.73" x2="654.8" y2="592.73" stroke="#bdbdbd" stroke-width="0.8"/>
<line x1="649.6" y1="596.1" x2="654.8" y2="596.1" stroke="#bdbdbd" stroke-width="0.8"/>
<line x1="649.6" y1="599.47" x2="654.8" y2="599.47" stroke="#bdbdbd" stroke-width="0.8"/>
<line x1="649.6" y1="602.83" x2="654.8" y2="602.83" stroke="#bdbdbd" stroke-width="0.8"/>
<line x1="649.6" y1="606.2" x2="654.8" y2="606.2" stroke="#bdbdbd" stroke-width="0.8"/>
<rect x="655.6" y="587.8" width="5.7" height="17.8" rx="0" fill="none" stroke="#333" stroke-width="1.2"/>
<rect x="648.8" y="700.6" width="6.8" height="26.1" rx="2.8" fill="#6a6a6a" stroke="#333" stroke-width="1.2"/>
<line x1="649.6" y1="703.6" x2="654.8" y2="703.6" stroke="#bdbdbd" stroke-width="0.8"/>
<line x1="649.6" y1="706.95" x2="654.8" y2="706.95" stroke="#bdbdbd" stroke-width="0.8"/>
<line x1="649.6" y1="710.3" x2="654.8" y2="710.3" stroke="#bdbdbd" stroke-width="0.8"/>
<line x1="649.6" y1="713.65" x2="654.8" y2="713.65" stroke="#bdbdbd" stroke-width="0.8"/>
<line x1="649.6" y1="717" x2="654.8" y2="717" stroke="#bdbdbd" stroke-width="0.8"/>
<line x1="649.6" y1="720.35" x2="654.8" y2="720.35" stroke="#bdbdbd" stroke-width="0.8"/>
<line x1="649.6" y1="723.7" x2="654.8" y2="723.7" stroke="#bdbdbd" stroke-width="0.8"/>
<rect x="655.6" y="704" width="5.7" height="18" rx="0" fill="none" stroke="#333" stroke-width="1.2"/>
<rect x="655.2" y="618.8" width="6.1" height="9.4" rx="0.8" fill="none" stroke="#333" stroke-width="1.2"/>
<path d="M661.3 697 L656.8 697 L656.8 704" fill="none" stroke="#333" stroke-width="1.2"/>
<path d="M668.9 723.2 L668.9 732.8 M687.9 723.2 L687.9 732.8" fill="none" stroke="#333" stroke-width="1.4"/>
<line x1="671.9" y1="723.2" x2="671.9" y2="732.8" stroke="#555" stroke-width="0.9"/>
<line x1="684.9" y1="723.2" x2="684.9" y2="732.8" stroke="#555" stroke-width="0.9"/>
<rect x="666.7" y="732.8" width="23.4" height="2.8" rx="0" fill="#666" stroke="#333" stroke-width="0.8"/>
<rect x="664.2" y="735.6" width="28.4" height="3.6" rx="1.6" fill="#777" stroke="#333" stroke-width="1.2"/>
<path d="M708.2 723.2 L708.2 732.8 M728.2 723.2 L728.2 732.8" fill="none" stroke="#333" stroke-width="1.4"/>
<line x1="711.2" y1="723.2" x2="711.2" y2="732.8" stroke="#555" stroke-width="0.9"/>
<line x1="725.2" y1="723.2" x2="725.2" y2="732.8" stroke="#555" stroke-width="0.9"/>
<rect x="706.3" y="732.8" width="24.2" height="2.8" rx="0" fill="#666" stroke="#333" stroke-width="0.8"/>
<rect x="703.8" y="735.6" width="29.2" height="3.6" rx="1.6" fill="#777" stroke="#333" stroke-width="1.2"/>
</g>
</g>
</svg>
</body>
</html>
